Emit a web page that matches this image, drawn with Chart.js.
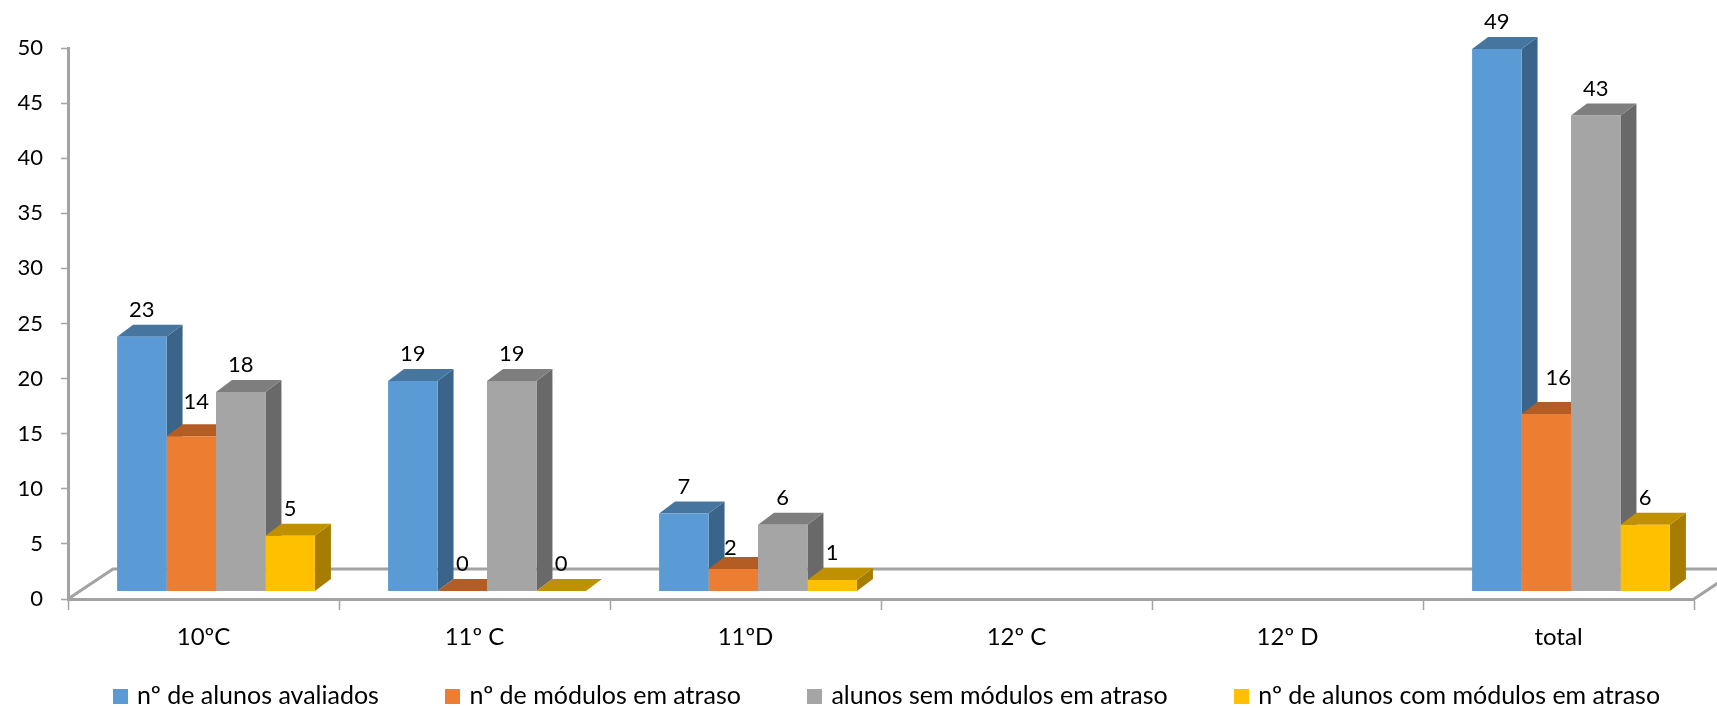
<!DOCTYPE html>
<html>
<head>
<meta charset="utf-8">
<script src="https://cdn.jsdelivr.net/npm/chart.js@4/dist/chart.umd.min.js"></script>
<style>
  html, body { margin: 0; padding: 0; background: #fff; }
  canvas { display: block; }
</style>
</head>
<body>
<canvas id="chart" width="1717" height="708"></canvas>
<script>
// values
const turmas = ['10ºC', '11º C', '11ºD', '12º C', '12º D', 'total'];
const avaliados = [23, 19, 7, null, null, 49];
const modulosAtraso = [14, 0, 2, null, null, 16];
const semModulos = [18, 19, 6, null, null, 43];
const comModulos = [5, 0, 1, null, null, 6];

const seriesNames = ['nº de alunos avaliados', 'nº de módulos em atraso', 'alunos sem módulos em atraso', 'nº de alunos com módulos em atraso'];
const frontColors = ['#5B9BD5', '#ED7D31', '#A5A5A5', '#FFC000'];
const topColors = ['#4675A0', '#B35C24', '#7E7E7E', '#BF9000'];
const sideColors = ['#3A6489', '#9A4F1F', '#696969', '#A67D00'];

const axisGrey = '#A3A3A3';
const textColor = '#000';
const fontName = 'Lato, Carlito, "Open Sans", sans-serif';

// 3d look: depth of the bars and how far the floor goes back
const depthX = 16, depthY = -12;
const floorX = 45, floorY = -30;
const barShiftX = 12.5;

// some labels in the original sit off the usual spot ("series:category")
const labelNudge = { '1:0': [5, -7], '1:5': [12, -9], '1:2': [-3, 6] };

// legend swatch, wider than the box the legend reserves so the text sits close to it
function swatch(color) {
  const c = document.createElement('canvas');
  c.width = 15;
  c.height = 15;
  const g = c.getContext('2d');
  g.fillStyle = color;
  g.fillRect(0, 0, 15, 15);
  return c;
}

const bars3d = {
  id: 'bars3d',
  afterLayout(chart) {
    // legend padding is the gap between items, so it is far too tall to stack normally
    chart.legend.left = 46.5;
    chart.legend.right = 1800;
    chart.legend.top = 613.5;
  },
  beforeDatasetsDraw(chart) {
    const { ctx, chartArea: a, width } = chart;
    // floor outline
    ctx.save();
    ctx.strokeStyle = axisGrey;
    ctx.lineWidth = 3;
    ctx.beginPath();
    ctx.moveTo(a.left, a.bottom);
    ctx.lineTo(a.left + floorX, a.bottom + floorY);
    ctx.lineTo(width, a.bottom + floorY);
    ctx.moveTo(a.right, a.bottom);
    ctx.lineTo(a.right + floorX, a.bottom + floorY);
    ctx.stroke();
    ctx.restore();
    ctx.save();
    ctx.translate(barShiftX, 0);
    // sides and tops go first, left to right; the library then paints the fronts over them
    chart.data.labels.forEach((_, n) => {
      chart.data.datasets.forEach((ds, i) => {
        if (ds.data[n] === null) return;
        const { x, y, base, width: w } = chart.getDatasetMeta(i).data[n].getProps(['x', 'y', 'base', 'width'], true);
        const l = x - w / 2, r = x + w / 2;
        ctx.fillStyle = sideColors[i];
        ctx.beginPath();
        ctx.moveTo(r, y);
        ctx.lineTo(r + depthX, y + depthY);
        ctx.lineTo(r + depthX, base + depthY);
        ctx.lineTo(r, base);
        ctx.closePath();
        ctx.fill();
        ctx.fillStyle = topColors[i];
        ctx.beginPath();
        ctx.moveTo(l, y);
        ctx.lineTo(l + depthX, y + depthY);
        ctx.lineTo(r + depthX, y + depthY);
        ctx.lineTo(r, y);
        ctx.closePath();
        ctx.fill();
      });
    });
  },
  afterDatasetsDraw(chart) {
    const { ctx } = chart;
    ctx.font = '22px ' + fontName;
    ctx.fillStyle = textColor;
    ctx.textAlign = 'center';
    ctx.textBaseline = 'middle';
    chart.data.datasets.forEach((ds, i) => {
      chart.getDatasetMeta(i).data.forEach((bar, n) => {
        if (ds.data[n] === null) return;
        const nudge = labelNudge[i + ':' + n] || [0, 0];
        ctx.fillText(String(ds.data[n]), bar.x + nudge[0], bar.y - 27 + nudge[1]);
      });
    });
    ctx.restore();
  }
};

const allValues = [avaliados, modulosAtraso, semModulos, comModulos];

new Chart(document.getElementById('chart'), {
  type: 'bar',
  data: {
    labels: turmas,
    datasets: allValues.map((vals, i) => ({
      label: seriesNames[i],
      data: vals,
      yAxisID: 'yBars',
      backgroundColor: frontColors[i],
      borderWidth: 0,
      categoryPercentage: 0.73,
      barPercentage: 1,
      clip: false
    }))
  },
  plugins: [bars3d],
  options: {
    responsive: false,
    animation: false,
    layout: { padding: { left: 0, right: 23, top: 48, bottom: -56 } },
    scales: {
      x: {
        afterFit(scale) { scale.height = 60; },
        grid: { offset: true, drawOnChartArea: false, color: axisGrey, tickLength: 11, tickWidth: 1.5 },
        border: { color: axisGrey, width: 3 },
        ticks: { color: textColor, font: { family: fontName, size: 24 }, padding: 13, maxRotation: 0 }
      },
      y: {
        min: 0,
        max: 50,
        afterFit(scale) { scale.width = 68; },
        grid: { drawOnChartArea: false, color: axisGrey, tickLength: 7, tickWidth: 1.5 },
        border: { color: axisGrey, width: 3 },
        ticks: { stepSize: 5, color: textColor, font: { family: fontName, size: 22 }, padding: 18 }
      },
      // bars stand on the floor a little above the front edge, so they get their own hidden scale
      yBars: { display: false, min: -0.72, max: 49.1 }
    },
    plugins: {
      tooltip: { enabled: false },
      legend: {
        position: 'bottom',
        align: 'start',
        labels: {
          usePointStyle: true,
          pointStyleWidth: 8,
          boxHeight: 15,
          padding: 70,
          color: textColor,
          font: { family: fontName, size: 25 },
          generateLabels: chart => chart.data.datasets.map((ds, i) => ({
            text: ds.label,
            pointStyle: swatch(frontColors[i]),
            fontColor: textColor,
            lineWidth: 0,
            hidden: false,
            datasetIndex: i
          }))
        }
      }
    }
  }
});
</script>
</body>
</html>
